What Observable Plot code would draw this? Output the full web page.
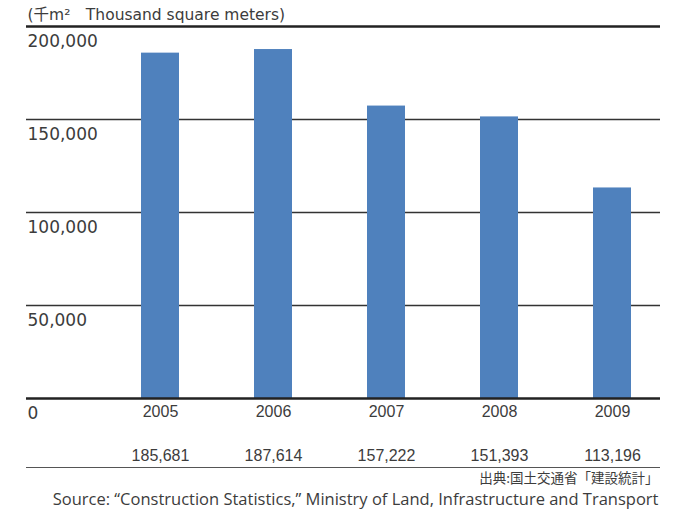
<!DOCTYPE html>
<html>
<head>
<meta charset="utf-8">
<script src="https://cdn.jsdelivr.net/npm/d3@7"></script>
<script src="https://cdn.jsdelivr.net/npm/@observablehq/plot@0.6"></script>
<style>
  html, body { margin: 0; padding: 0; background: #fff; }
  #chart { width: 684px; height: 510px; }
  svg text { fill: #3c3c3c; }
</style>
</head>
<body>
<div id="chart"></div>
<script>
const years = ["2005", "2006", "2007", "2008", "2009"];
const values = [185681, 187614, 157222, 151393, 113196];
const yTicks = [0, 50000, 100000, 150000, 200000];
const gridTicks = [50000, 100000, 150000];
const unitLabel = "(千m²\u3000Thousand square meters)";
const sourceJa = "出典:国土交通省「建設統計」";
const sourceEn = "Source: \u201cConstruction Statistics,\u201d Ministry of Land, Infrastructure and Transport";

const data = years.map((y, i) => ({year: y, value: values[i]}));
const fmt = d3.format(",");
const wideFont = "'DejaVu Sans', 'Noto Sans CJK JP', sans-serif";
const narrowFont = "'Liberation Sans', sans-serif";
const cjkFont = "'Noto Sans CJK JP', sans-serif";
const srcFont = "'Open Sans', 'Noto Sans', sans-serif";

const chart = Plot.plot({
  width: 684,
  height: 510,
  marginTop: 26,
  marginBottom: 112,
  marginLeft: 26,
  marginRight: 24,
  style: {fontFamily: wideFont, background: "#fff", color: "#3c3c3c"},
  x: {domain: years, range: [103.5, 668.5], paddingInner: 0.66, paddingOuter: 0.33, axis: null},
  y: {domain: [0, 200000], axis: null},
  marks: [
    Plot.ruleY(gridTicks, {stroke: "#333", strokeWidth: 1.3}),
    Plot.barY(data, {x: "year", y: "value", fill: "#4f81bd"}),
    Plot.ruleY([200000], {stroke: "#222", strokeWidth: 2.5}),
    Plot.ruleY([0], {stroke: "#222", strokeWidth: 2.5}),
    Plot.ruleY([0], {stroke: "#555", strokeWidth: 1, dy: 69}),
    Plot.text(yTicks, {y: d => d, frameAnchor: "left", textAnchor: "start", lineAnchor: "middle", dx: 1, dy: 15.5, text: d => fmt(d), fontSize: 17, fill: "#444", fontFamily: wideFont}),
    Plot.text(years, {x: d => d, frameAnchor: "bottom", lineAnchor: "middle", dy: 13, text: d => d, fontSize: 16, fontFamily: narrowFont}),
    Plot.text(data, {x: "year", frameAnchor: "bottom", lineAnchor: "middle", dy: 57, text: d => fmt(d.value), fontSize: 16, fontFamily: narrowFont}),
    Plot.text([unitLabel], {frameAnchor: "top-left", textAnchor: "start", lineAnchor: "middle", dx: 1, dy: -11, text: d => d, fontSize: 15.5, fontFamily: wideFont}),
    Plot.text([sourceJa], {frameAnchor: "bottom-right", textAnchor: "end", lineAnchor: "middle", dx: -2, dy: 80, text: d => d, fontSize: 13.5, fontFamily: cjkFont}),
    Plot.text([sourceEn], {frameAnchor: "bottom-right", textAnchor: "end", lineAnchor: "middle", dx: -2, dy: 101, text: d => d, fontSize: 16.5, fontFamily: srcFont})
  ]
});
document.getElementById("chart").appendChild(chart);
</script>
</body>
</html>
